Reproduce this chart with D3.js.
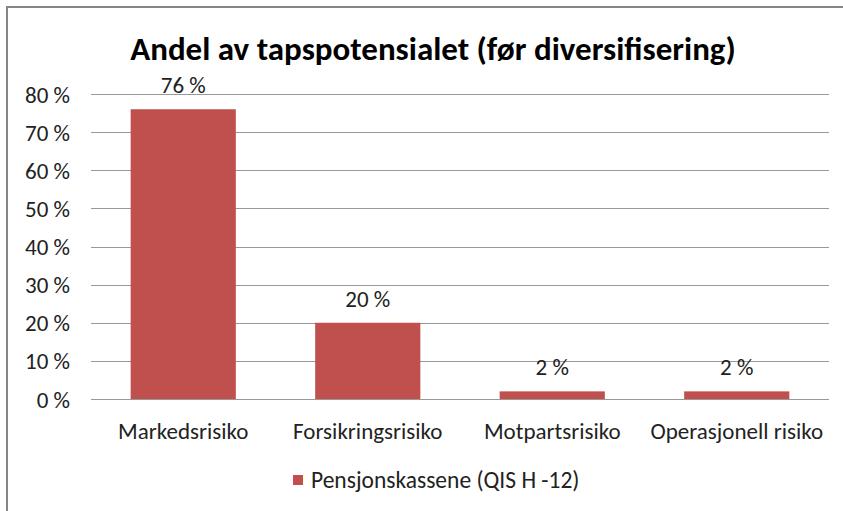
<!DOCTYPE html>
<html>
<head>
<meta charset="utf-8">
<script src="https://cdn.jsdelivr.net/npm/d3@7"></script>
<style>
  body { margin: 0; background: #fff; }
  svg text { font-family: Carlito, Calibri, "Liberation Sans Narrow", "DejaVu Sans Condensed", "Open Sans", sans-serif; fill: #222; }
</style>
</head>
<body>
<div id="chart"></div>
<script>
// Chart data
const categories = ["Markedsrisiko", "Forsikringsrisiko", "Motpartsrisiko", "Operasjonell risiko"];
const values = [76, 20, 2, 2];
const yTicks = [0, 10, 20, 30, 40, 50, 60, 70, 80];
const seriesName = "Pensjonskassene (QIS H -12)";
const title = "Andel av tapspotensialet (før diversifisering)";

const W = 843, H = 511;
const plot = { left: 91, right: 829, top: 94, bottom: 399 };
const barColor = "#C0504D";
const fontSize = "23px";

const svg = d3.select("#chart")
  .append("svg")
  .attr("width", W)
  .attr("height", H);

// Outer frame (cut off on right and bottom)
svg.append("path")
  .attr("d", `M7,${H} L7,7 L${W},7`)
  .attr("fill", "none")
  .attr("stroke", "#868686")
  .attr("stroke-width", 2);

// Title
svg.append("text")
  .attr("x", 433)
  .attr("y", 48)
  .attr("dy", "0.35em")
  .attr("text-anchor", "middle")
  .style("font-size", "33px")
  .style("font-weight", "bold")
  .style("fill", "#000")
  .text(title);

// Scales
const x = d3.scaleBand()
  .domain(categories)
  .range([plot.left, plot.right])
  .paddingInner(0.43)
  .paddingOuter(0.215);

const y = d3.scaleLinear()
  .domain([0, 80])
  .range([plot.bottom, plot.top]);

// Gridlines
svg.append("g")
  .selectAll("line")
  .data(yTicks)
  .enter()
  .append("line")
  .attr("x1", plot.left)
  .attr("x2", plot.right)
  .attr("y1", d => Math.round(y(d)) + 0.5)
  .attr("y2", d => Math.round(y(d)) + 0.5)
  .attr("stroke", "#989898")
  .attr("stroke-width", 1);

// Y axis labels
const yAxis = svg.append("g")
  .attr("transform", `translate(${plot.left - 21},0)`)
  .call(d3.axisLeft(y).tickValues(yTicks).tickSize(0).tickFormat(d => d + " %"));
yAxis.select(".domain").remove();
yAxis.selectAll("text")
  .attr("x", 0)
  .attr("dy", "0.35em")
  .style("font-size", fontSize);

// Bars
svg.selectAll("rect.bar")
  .data(values)
  .enter()
  .append("rect")
  .attr("class", "bar")
  .attr("x", (d, i) => x(categories[i]))
  .attr("y", d => y(d))
  .attr("width", x.bandwidth())
  .attr("height", d => y(0) - y(d))
  .attr("fill", barColor);

// Value labels
svg.selectAll("text.val")
  .data(values)
  .enter()
  .append("text")
  .attr("class", "val")
  .attr("x", (d, i) => x(categories[i]) + x.bandwidth() / 2)
  .attr("y", d => y(d) - 24)
  .attr("dy", "0.35em")
  .attr("text-anchor", "middle")
  .style("font-size", fontSize)
  .text(d => d + " %");

// X axis category labels
const xAxis = svg.append("g")
  .attr("transform", `translate(0,${plot.bottom})`)
  .call(d3.axisBottom(x).tickSize(0));
xAxis.select(".domain").remove();
xAxis.selectAll("text")
  .attr("y", 32)
  .attr("dy", "0.35em")
  .style("font-size", fontSize);

// Legend
const legend = svg.append("g").attr("transform", "translate(293,475)");
legend.append("rect")
  .attr("width", 10)
  .attr("height", 10)
  .attr("fill", barColor);
legend.append("text")
  .attr("x", 18)
  .attr("y", 5)
  .attr("dy", "0.35em")
  .style("font-size", "23.5px")
  .text(seriesName);
</script>
</body>
</html>
